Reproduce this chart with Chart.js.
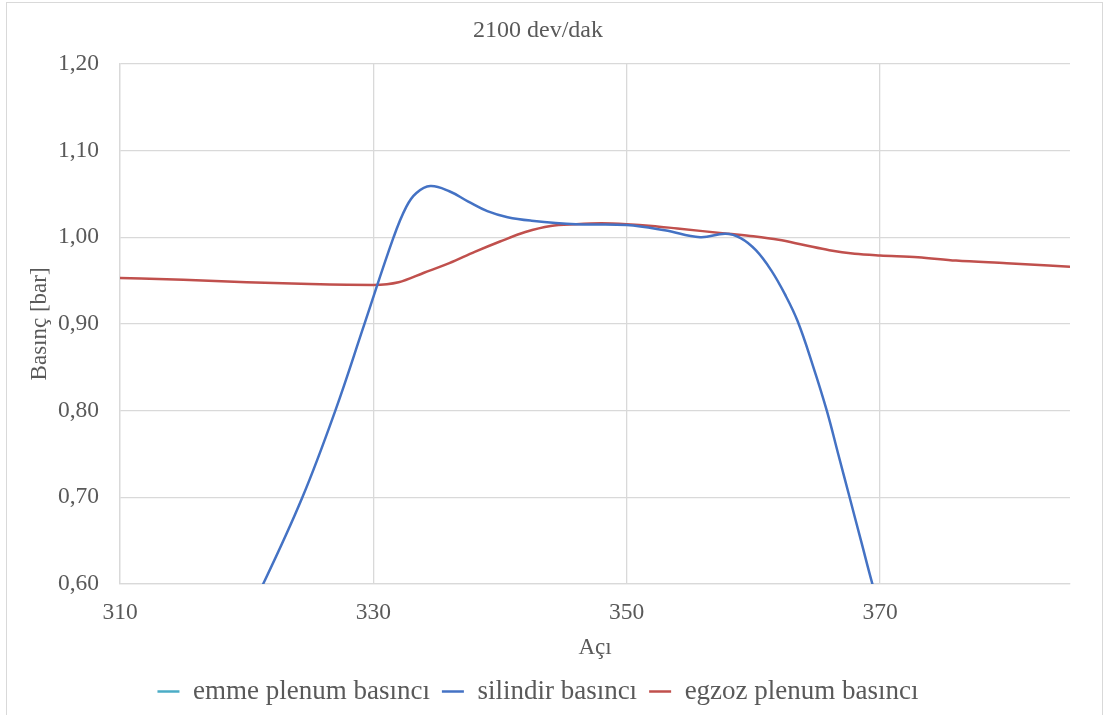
<!DOCTYPE html>
<html>
<head>
<meta charset="utf-8">
<script src="https://cdn.jsdelivr.net/npm/chart.js@4/dist/chart.umd.min.js"></script>
<style>
    html, body { margin: 0; padding: 0; background: #fff; }
    #wrap { position: relative; width: 1107px; height: 715px; overflow: hidden; }
    #frame { position: absolute; left: 6px; top: 2px; width: 1097px; height: 730px; border: 1px solid #d9d9d9; box-sizing: border-box; }
    canvas { position: absolute; left: 0; top: 0; }
</style>
</head>
<body>
<div id="wrap">
    <div id="frame"></div>
    <canvas id="pressure-graph" width="1107" height="715"></canvas>
</div>
<script>
const xTicks = [310, 330, 350, 370];

const seriesNames = ['emme plenum basıncı', 'silindir basıncı', 'egzoz plenum basıncı'];

// emme plenum stays outside the visible range, only the legend shows it
const emmeAci = [];
const emmeBasinc = [];

const silindirAci = [320, 321.3, 324.4, 327.0, 329.3, 331.6, 332.6, 333.4, 334.5, 336, 337.5, 339, 340.6, 342.5, 346, 350, 353, 355.8, 357.8, 359, 360.2, 361.4, 362.5, 363.5, 364.7, 365.8, 366.7, 367.6, 368.5, 369.4, 370];
const silindirBasinc = [0.565, 0.60, 0.70, 0.80, 0.90, 1.00, 1.035, 1.051, 1.059, 1.053, 1.041, 1.030, 1.023, 1.019, 1.015, 1.014, 1.008, 1.000, 1.004, 0.999, 0.985, 0.962, 0.934, 0.903, 0.852, 0.80, 0.75, 0.70, 0.65, 0.60, 0.57];

const egzozAci = [310, 315, 320, 325, 330, 332, 334, 336, 338, 340, 342, 344, 346, 348, 350, 352, 354, 356, 358, 360, 362, 364, 366, 368, 370, 373, 376, 380, 385];
const egzozBasinc = [0.953, 0.951, 0.948, 0.946, 0.945, 0.948, 0.959, 0.970, 0.983, 0.995, 1.006, 1.013, 1.015, 1.016, 1.015, 1.013, 1.010, 1.007, 1.004, 1.001, 0.997, 0.991, 0.985, 0.981, 0.979, 0.977, 0.973, 0.970, 0.966];

const colors = ['#4BACC6', '#4472C4', '#C0504D'];

function Points(xs, ys){
    let pts = [];
    for(let i=0; i < xs.length; i++)
        pts.push({x: xs[i], y: ys[i]});
    return pts;
}

function CreateLine(canva){
    const ctx = document.getElementById(canva);
    const fontName = "'Liberation Serif', 'Times New Roman', serif";
    const textColor = '#595959';
    const gridColor = '#d9d9d9';

    const allData = [Points(emmeAci, emmeBasinc), Points(silindirAci, silindirBasinc), Points(egzozAci, egzozBasinc)];
    const datasets = seriesNames.map((name, i) => ({
        label: name,
        data: allData[i],
        borderColor: colors[i],
        backgroundColor: colors[i],
        borderWidth: 2.5,
        pointRadius: 0,
        tension: 0.4,
        cubicInterpolationMode: i == 1 ? 'default' : 'monotone',
        fill: false
    }));

    new Chart(ctx, {
        type: 'line',
        data: { datasets: datasets },
        options: {
            responsive: false,
            animation: false,
            layout: { padding: { left: 6, right: 37, top: 0, bottom: 0 } },
            plugins: {
                title: {
                    display: true,
                    text: '2100 dev/dak',
                    color: textColor,
                    font: { family: fontName, size: 24, weight: 'normal' },
                    padding: { top: 16, bottom: 19 }
                },
                legend: {
                    position: 'bottom',
                    labels: {
                        color: textColor,
                        font: { family: fontName, size: 27 },
                        usePointStyle: true,
                        pointStyle: 'line',
                        pointStyleWidth: 22,
                        padding: 12,
                        boxHeight: 27
                    }
                },
                tooltip: { enabled: false }
            },
            scales: {
                x: {
                    type: 'linear',
                    min: 310,
                    max: 385,
                    afterBuildTicks: (scale) => { scale.ticks = xTicks.map(v => ({value: v})); },
                    afterFit: (scale) => { scale.height = 82; },
                    grid: { color: gridColor, lineWidth: 1.3, drawTicks: false },
                    border: { color: gridColor, width: 1.3 },
                    ticks: {
                        color: textColor,
                        font: { family: fontName, size: 23.5 },
                        padding: 15,
                        maxRotation: 0
                    },
                    title: {
                        display: true,
                        text: 'Açı',
                        color: textColor,
                        font: { family: fontName, size: 23 },
                        padding: { top: 0, bottom: 4 }
                    }
                },
                y: {
                    min: 0.6,
                    max: 1.2,
                    afterFit: (scale) => { scale.width = 114; },
                    grid: { color: gridColor, lineWidth: 1.3, drawTicks: false },
                    border: { color: gridColor, width: 1.3 },
                    ticks: {
                        stepSize: 0.1,
                        color: textColor,
                        font: { family: fontName, size: 23.5 },
                        padding: 21,
                        callback: (v) => v.toFixed(2).replace('.', ',')
                    },
                    title: {
                        display: true,
                        text: 'Basınç [bar]',
                        color: textColor,
                        font: { family: fontName, size: 23 },
                        padding: { top: 20, bottom: 0 }
                    }
                }
            }
        }
    });
}

CreateLine('pressure-graph');
</script>
</body>
</html>
